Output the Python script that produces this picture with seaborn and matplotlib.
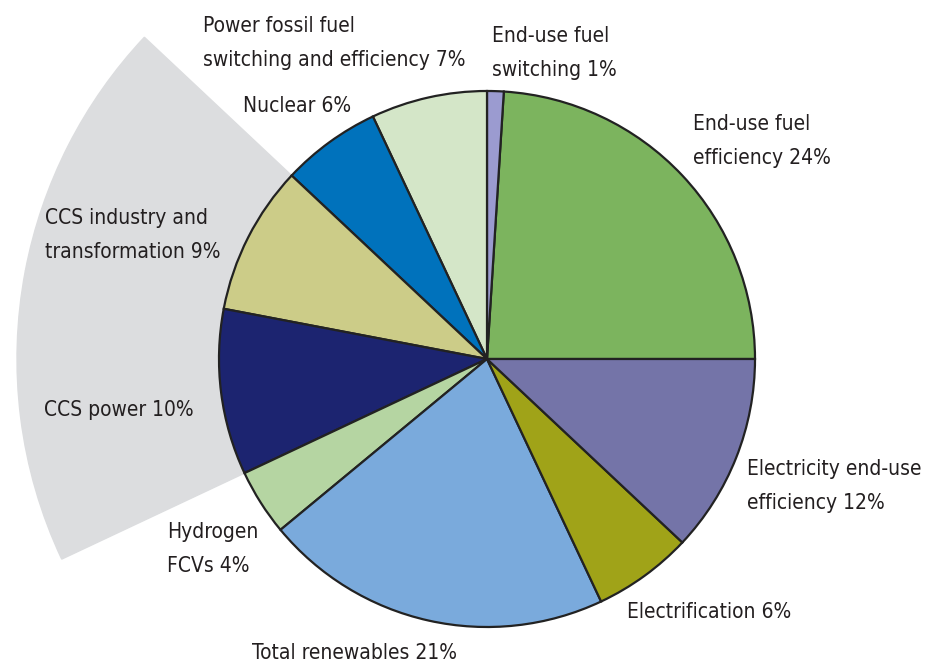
import matplotlib
matplotlib.use("Agg")
import matplotlib.pyplot as plt
import seaborn as sns

# --- data (counter-clockwise from east) ---
labels = ["End-use fuel\nefficiency 24%", "End-use fuel\nswitching 1%",
          "Power fossil fuel\nswitching and efficiency 7%", "Nuclear 6%",
          "CCS industry and\ntransformation 9%", "CCS power 10%",
          "Hydrogen\nFCVs 4%", "Total renewables 21%", "Electrification 6%",
          "Electricity end-use\nefficiency 12%"]
shares = [24, 1, 7, 6, 9, 10, 4, 21, 6, 12]
colors = ["#7cb45e", "#9b9bd0", "#d4e6c8", "#0072bc", "#cccc88",
          "#1c2470", "#b5d5a2", "#7aaadc", "#a0a318", "#7474a8"]
highlight = ["CCS industry and\ntransformation 9%", "CCS power 10%"]

# label anchor (left x, centre y) in pixels from the top-left
label_pos = [(693, 141), (492, 53), (203, 43), (243, 106), (45, 235),
             (44, 410), (167, 549), (252, 653), (627, 612), (747, 486)]

sns.set_theme(style="white")
plt.rcParams["font.family"] = ["DejaVu Sans"]

W, H = 927, 664
fig = plt.figure(figsize=(W / 100, H / 100), dpi=100)
ax = fig.add_axes([0, 0, 1, 1])
ax.set_aspect("equal")

cx, cy, r = 487, H - 359, 268

# grey backdrop behind the CCS slices
back = ["#dcdddf" if l in highlight else "none" for l in labels]
wedges, _ = ax.pie(shares, colors=back, startangle=0, counterclock=True,
                   center=(cx, cy), radius=470, frame=True,
                   wedgeprops=dict(linewidth=1))
for w, c in zip(wedges, back):
    w.set_edgecolor(c)

ax.pie(shares, colors=colors, startangle=0, counterclock=True,
       center=(cx, cy), radius=r, frame=True,
       wedgeprops=dict(edgecolor="#222222", linewidth=1.6))

ax.set_xlim(0, W)
ax.set_ylim(0, H)
ax.axis("off")

for lab, (x, y) in zip(labels, label_pos):
    ax.text(x, H - y, lab, ha="left", va="center", fontsize=15,
            fontstretch="condensed", color="#231f20", linespacing=1.9)

fig.savefig("out.png", dpi=100)
